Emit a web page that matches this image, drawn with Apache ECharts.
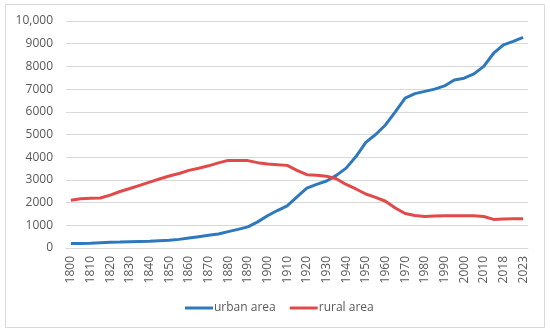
<!DOCTYPE html>
<html>
<head>
<meta charset="utf-8">
<script src="https://cdn.jsdelivr.net/npm/echarts@6/dist/echarts.min.js"></script>
<style>html,body{margin:0;padding:0;background:#fff}#c{width:550px;height:334px}</style>
</head>
<body>
<div id="c"></div>
<script>
const years = ['1800','1805','1810','1815','1820','1825','1830','1835','1840','1845','1850','1855','1860','1865','1870','1875','1880','1885','1890','1895','1900','1905','1910','1915','1920','1925','1930','1935','1940','1945','1950','1955','1960','1965','1970','1975','1980','1985','1990','1995','2000','2005','2010','2015','2018','2020','2023'];
const urbanArea = [200,200,210,230,250,260,280,290,300,320,340,380,440,500,560,620,720,820,930,1150,1420,1650,1860,2250,2640,2800,2950,3200,3520,4030,4650,5000,5420,6000,6600,6800,6900,7000,7140,7400,7480,7670,8000,8580,8950,9100,9280];
const ruralArea = [2100,2170,2190,2200,2330,2490,2620,2760,2900,3040,3170,3280,3420,3510,3620,3750,3860,3860,3850,3760,3700,3670,3640,3420,3230,3200,3160,3050,2800,2600,2380,2230,2060,1760,1520,1430,1390,1410,1420,1420,1420,1420,1390,1260,1280,1290,1290];
const seriesNames = ['urban area','rural area'];

const chart = echarts.init(document.getElementById('c'));
const font = "'Open Sans', sans-serif";
chart.setOption({
  animation: false,
  graphic: [{type:'rect', shape:{x:5.5,y:4.5,width:539,height:323}, style:{fill:'none', stroke:'#d9d9d9', lineWidth:1}}],
  grid: {left:66, right:22, top:21, bottom:86},
  legend: {
    left: 180, top: 297, itemWidth: 28, itemHeight: 3, itemGap: 14,
    icon: 'rect',
    textStyle: {fontFamily: font, fontSize: 12, color: '#595959', padding:[0,0,0,-4]},
    data: seriesNames
  },
  xAxis: {
    type: 'category', data: years, boundaryGap: true,
    axisLine: {lineStyle: {color:'#d9d9d9', width:1}},
    axisTick: {show:false},
    axisLabel: {interval: 1, rotate: 90, margin: 8, fontFamily: font, fontSize: 12, color:'#595959'}
  },
  yAxis: {
    type: 'value', min: 0, max: 10000, interval: 1000,
    axisLine: {show:false}, axisTick:{show:false},
    splitLine: {lineStyle:{color:'#d9d9d9', width:1}},
    axisLabel: {margin: 13, fontFamily: font, fontSize: 12, color:'#595959',
      formatter: v => v === 10000 ? '10,000' : String(v)}
  },
  series: [
    {name: seriesNames[0], type:'line', data: urbanArea, symbol:'none', lineStyle:{width:3, color:'#2e79bd'}, itemStyle:{color:'#2e79bd'}},
    {name: seriesNames[1], type:'line', data: ruralArea, symbol:'none', lineStyle:{width:3, color:'#e24a4a'}, itemStyle:{color:'#e24a4a'}}
  ]
});
</script>
</body>
</html>
